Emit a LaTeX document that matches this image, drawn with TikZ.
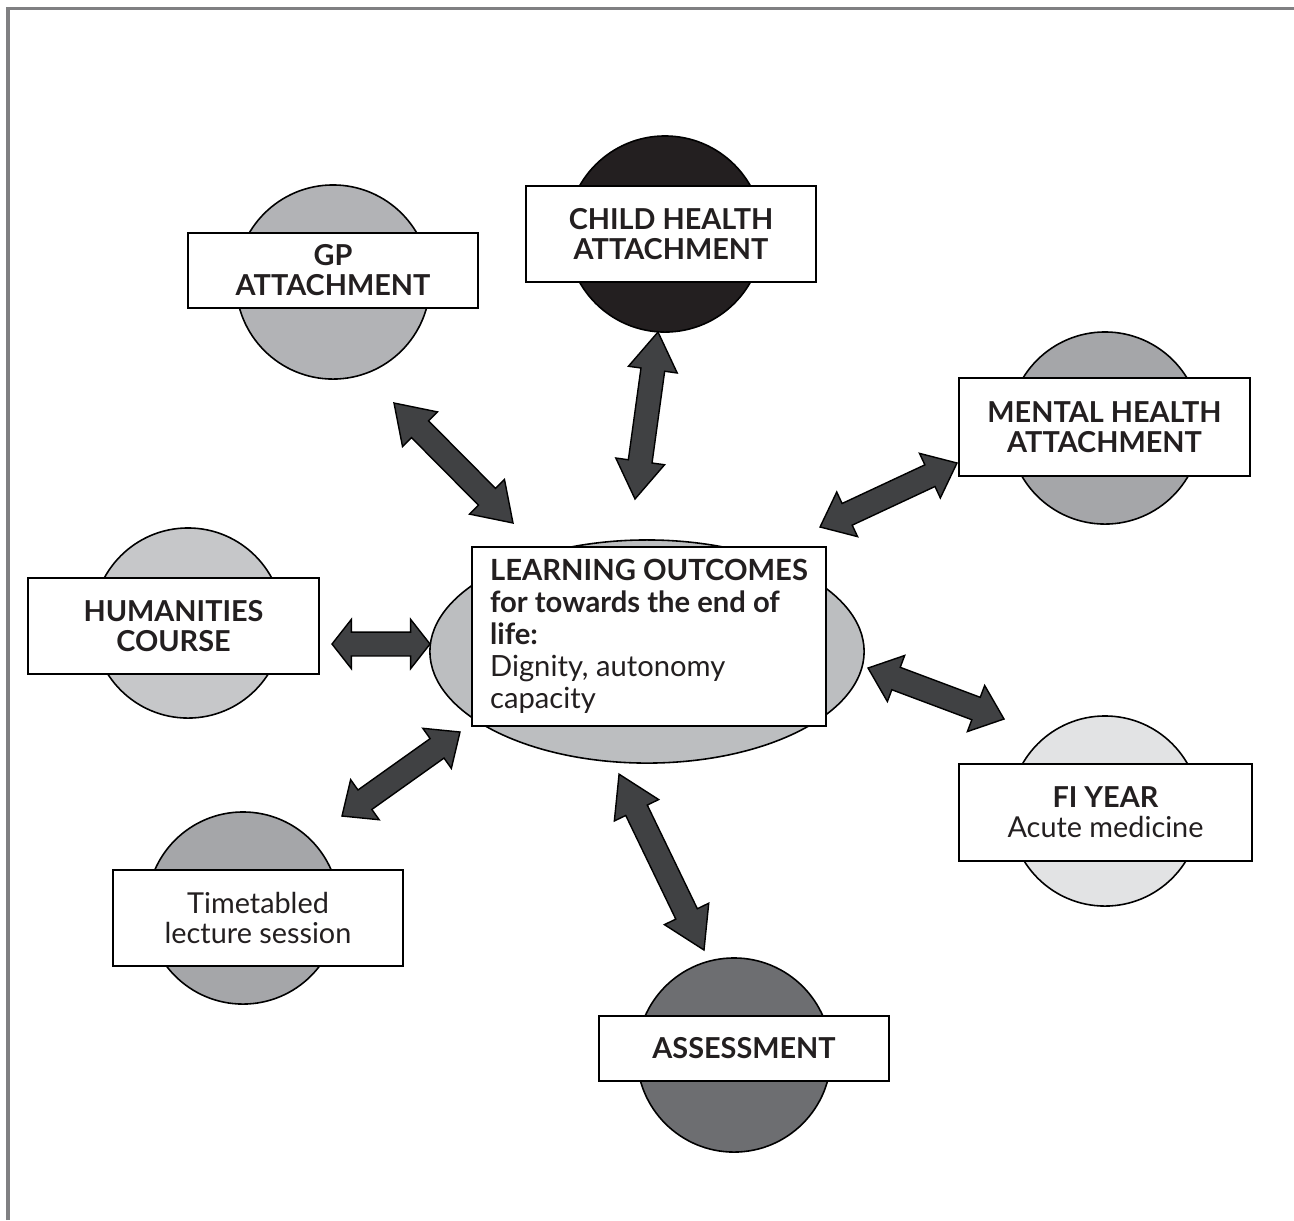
\documentclass[tikz,border=0pt]{standalone}
\usepackage{fontspec}
\setmainfont{Lato}
\usetikzlibrary{calc,shapes.geometric}
\definecolor{framegray}{RGB}{128,128,130}
\definecolor{inkblack}{RGB}{35,31,32}
\definecolor{gpgray}{RGB}{178,179,182}
\definecolor{childblack}{RGB}{35,31,32}
\definecolor{mentalgray}{RGB}{165,166,169}
\definecolor{humgray}{RGB}{198,199,201}
\definecolor{fygray}{RGB}{226,227,228}
\definecolor{lecturegray}{RGB}{165,166,169}
\definecolor{assessgray}{RGB}{109,110,113}
\definecolor{outcomegray}{RGB}{188,190,192}
\definecolor{arrowgray}{RGB}{64,65,67}

% block arrow with two heads: from, to, head length
\def\hw{7pt}
\def\sw{3.4pt}
\newcommand{\blockarrow}[3]{%
  \draw[arrowbody] let \p1=(#1), \p2=(#2),
      \n1={atan2(\y2-\y1,\x2-\x1)}, \n2={veclen(\x2-\x1,\y2-\y1)} in
    [shift={(\p1)}, rotate=\n1]
    (0pt,0pt) -- (#3,\hw) -- (#3,\sw) -- (\n2-#3,\sw) -- (\n2-#3,\hw) -- (\n2,0pt)
    -- (\n2-#3,-\hw) -- (\n2-#3,-\sw) -- (#3,-\sw) -- (#3,-\hw) -- cycle;}

\tikzset{
  disc/.style={circle, draw=black, line width=0.45pt, inner sep=0pt, minimum size=1.94cm},
  tagbox/.style={rectangle, draw=black, line width=0.5pt, fill=white, align=center,
    inner sep=0pt, text=inkblack, minimum width=2.9cm, font=\fontsize{8.2}{8.5}\selectfont},
  arrowbody/.style={draw=black, line width=0.4pt, fill=arrowgray, line join=miter},
}

\begin{document}
\begin{tikzpicture}[x=0.01cm,y=-0.01cm]
  \useasboundingbox (0,0) rectangle (1294,1220);
  % Marco
  \draw[framegray, line width=0.03cm] (8,1220) -- (8,8) -- (1294,8);

  % Centro
  \node[ellipse, draw=black, line width=0.45pt, fill=outcomegray,
    minimum width=4.34cm, minimum height=2.23cm] (outell) at (647,651.5) {};
  \node[tagbox, minimum width=3.54cm, minimum height=1.79cm,
    align=left, font=\fontsize{8.3}{9.1}\selectfont] (outcomes) at (649,636.5)
    {\textbf{LEARNING OUTCOMES}\\\textbf{for towards the end of}\\\textbf{life:}\\Dignity, autonomy\\capacity};

  % Satelites
  \node[disc, fill=gpgray] (gpdisc) at (333,282) {};
  \node[tagbox, minimum height=0.75cm] (gpbox) at (333,270.5) {\textbf{GP}\\\textbf{ATTACHMENT}};

  \node[disc, fill=childblack, minimum size=1.96cm] (childdisc) at (665,234) {};
  \node[tagbox, minimum height=0.96cm] (childbox) at (671,234) {\textbf{CHILD HEALTH}\\\textbf{ATTACHMENT}};

  \node[disc, fill=mentalgray, minimum size=1.92cm] (mentaldisc) at (1105,428) {};
  \node[tagbox, minimum width=2.91cm, minimum height=0.98cm] (mentalbox) at (1104.5,427) {\textbf{MENTAL HEALTH}\\\textbf{ATTACHMENT}};

  \node[disc, fill=humgray, minimum size=1.9cm] (humdisc) at (188,623) {};
  \node[tagbox, minimum width=2.91cm, minimum height=0.96cm] (humbox) at (173.5,626) {\textbf{HUMANITIES}\\\textbf{COURSE}};

  \node[disc, fill=fygray, minimum size=1.9cm] (fydisc) at (1105,811) {};
  \node[tagbox, minimum width=2.93cm, minimum height=0.97cm] (fybox) at (1105.5,812.5) {\textbf{FI YEAR}\\Acute medicine};

  \node[disc, fill=lecturegray, minimum size=1.92cm] (lecdisc) at (243,908) {};
  \node[tagbox, minimum height=0.96cm] (lecbox) at (258,918) {Timetabled\\lecture session};

  \node[disc, fill=assessgray] (assessdisc) at (734,1055) {};
  \node[tagbox, minimum height=0.65cm] (assessbox) at (744,1048.5) {\textbf{ASSESSMENT}};

  % Flechas
  \coordinate (gpA) at (394,403);   \coordinate (gpB) at (513,523);
  \coordinate (childA) at (658,332); \coordinate (childB) at (635,499);
  \coordinate (mentalA) at (957,463); \coordinate (mentalB) at (820,527);
  \coordinate (humA) at (332,644);  \coordinate (humB) at (430,644);
  \coordinate (fyA) at (1004,719);  \coordinate (fyB) at (868,668);
  \coordinate (lecA) at (342,816);  \coordinate (lecB) at (460,732);
  \coordinate (assessA) at (704,950); \coordinate (assessB) at (619,774);
  \blockarrow{gpA}{gpB}{10.5pt}
  \blockarrow{childA}{childB}{10.8pt}
  \blockarrow{mentalA}{mentalB}{8.5pt}
  \blockarrow{humA}{humB}{5.5pt}
  \blockarrow{fyA}{fyB}{8.5pt}
  \blockarrow{lecA}{lecB}{8pt}
  \blockarrow{assessA}{assessB}{11.4pt}
\end{tikzpicture}
\end{document}
